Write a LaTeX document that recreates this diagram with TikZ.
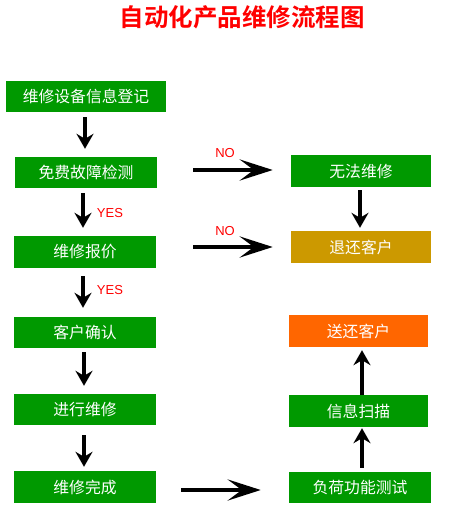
\documentclass[tikz,border=0pt]{standalone}
\usepackage{fontspec}
\setmainfont{Liberation Sans}
\newfontfamily\cjk{Noto Sans CJK SC}
\newfontfamily\cjkb{Noto Sans CJK SC Bold}
\usetikzlibrary{arrows.meta}
\definecolor{boxgreen}{HTML}{009900}
\definecolor{boxgold}{HTML}{CC9900}
\definecolor{boxorange}{HTML}{FF6600}
\definecolor{labred}{HTML}{FF0000}
\tikzset{
  stepbox/.style={fill=boxgreen, text=white, inner sep=0pt, minimum height=31pt,
    font=\cjk\fontsize{15.8}{15.8}\selectfont},
  varr/.style={line width=4.2pt, -{Stealth[length=15pt,width=17pt,inset=5pt]}},
  harr/.style={line width=4.6pt, -{Stealth[length=33pt,width=21pt,inset=14pt]}},
  lab/.style={text=labred, font=\fontsize{13}{13}\selectfont, inner sep=0pt}
}
\begin{document}
\begin{tikzpicture}[x=1pt,y=-1pt]
\useasboundingbox (0,0) rectangle (462,511);
\node[text=labred, font=\cjkb\fontsize{24.5}{24.5}\selectfont, inner sep=0pt] (title) at (242,17) {自动化产品维修流程图};
% left column
\node[stepbox, minimum width=160pt] (n1) at (86,96.5) {维修设备信息登记};
\node[stepbox, minimum width=142pt] (n2) at (86,172.5) {免费故障检测};
\node[stepbox, minimum width=142pt, minimum height=32pt] (n3) at (85,252) {维修报价};
\node[stepbox, minimum width=142pt] (n4) at (85,332.5) {客户确认};
\node[stepbox, minimum width=142pt] (n5) at (85,409.5) {进行维修};
\node[stepbox, minimum width=142pt, minimum height=32pt] (n6) at (85,487) {维修完成};
% right column
\node[stepbox, minimum width=140pt, minimum height=32pt] (r1) at (361,171) {无法维修};
\node[stepbox, fill=boxgold, minimum width=140pt, minimum height=32pt] (r2) at (361,247) {退还客户};
\node[stepbox, fill=boxorange, minimum width=139pt, minimum height=32pt] (r3) at (358.5,331) {送还客户};
\node[stepbox, minimum width=139pt, minimum height=32pt] (r4) at (358.5,411) {信息扫描};
\node[stepbox, minimum width=142pt] (r5) at (360,487.5) {负荷功能测试};
% vertical arrows, left
\draw[varr] ([yshift=-5pt]n1.south -| 85,0) -- ([yshift=8pt]n2.north -| 85,0);
\draw[varr] ([yshift=-5pt]n2.south -| 83,0) -- ([yshift=8pt]n3.north -| 83,0);
\draw[varr] ([yshift=-8pt]n3.south -| 83,0) -- ([yshift=9pt]n4.north -| 83,0);
\draw[varr] ([yshift=-4pt]n4.south -| 84,0) -- ([yshift=8pt]n5.north -| 84,0);
\draw[varr] ([yshift=-10pt]n5.south -| 84,0) -- ([yshift=4pt]n6.north -| 84,0);
% vertical arrows, right
\draw[varr] ([yshift=-3pt]r1.south -| 360,0) -- ([yshift=3pt]r2.north -| 360,0);
\draw[varr] ([yshift=4pt]r5.north -| 362,0) -- ([yshift=-1pt]r4.south -| 362,0);
\draw[varr] ([yshift=0pt]r4.north -| 362,0) -- ([yshift=-3pt]r3.south -| 362,0);
% horizontal arrows
\draw[harr] ([xshift=36pt]n2.east |- 0,170) -- ([xshift=-18pt]r1.west |- 0,170);
\draw[harr] ([xshift=37pt]n3.east |- 0,247) -- ([xshift=-18pt]r2.west |- 0,247);
\draw[harr] ([xshift=25pt]n6.east |- 0,490) -- ([xshift=-28pt]r5.west |- 0,490);
% labels
\node[lab] (no1) at (225,153) {NO};
\node[lab] (no2) at (225,231) {NO};
\node[lab] (yes1) at (110,213) {YES};
\node[lab] (yes2) at (110,290) {YES};
\end{tikzpicture}
\end{document}
